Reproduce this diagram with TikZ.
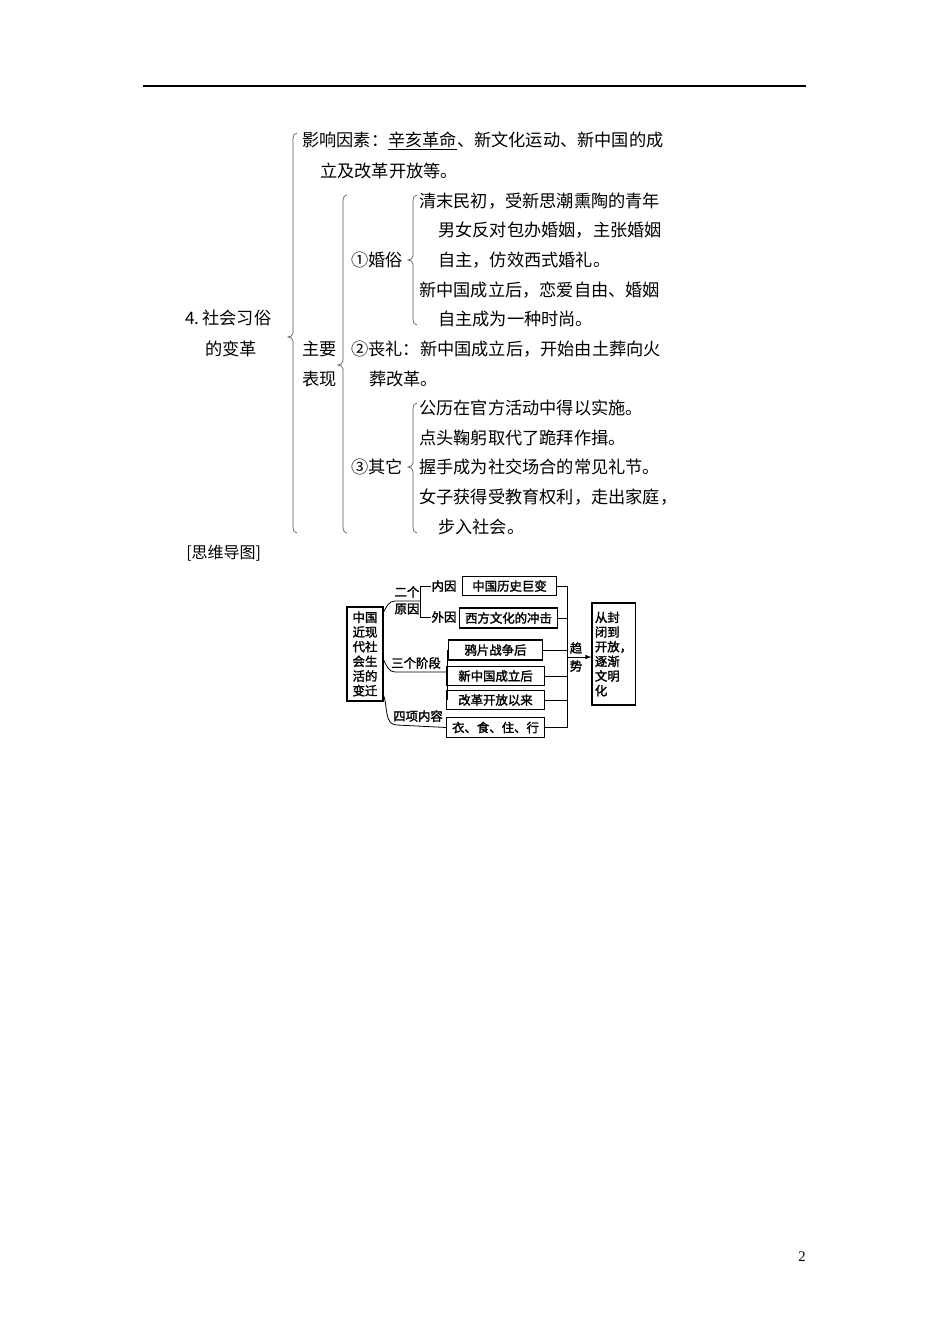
\documentclass[tikz,border=0pt]{standalone}
\usepackage{fontspec}
\setmainfont{Liberation Serif}
\newfontfamily\cjk{Noto Sans CJK SC}
\newfontfamily\cjkb{Noto Sans CJK SC}[FakeBold=2]
\begin{document}
\begin{tikzpicture}[x=0.75pt,y=-0.75pt,
  t/.style={anchor=west,inner sep=0pt,font=\cjk\fontsize{12.9}{14}\selectfont},
  m/.style={inner sep=0pt,font=\cjkb\fontsize{9.3}{11}\selectfont},
  bx/.style={draw,line width=0.8pt,inner sep=0pt},
  ln/.style={line width=0.6pt},
  br/.style={line width=0.5pt,gray!70!black}]
\useasboundingbox (0,0) rectangle (950,1344);
\newcommand\mybrace[4]{\draw[br] ({#1+4},#2) to[out=180,in=90] (#1,{#2+5}) -- (#1,{#3-4}) to[out=-90,in=0] ({#1-5},#3) to[out=0,in=90] (#1,{#3+4}) -- (#1,{#4-5}) to[out=-90,in=180] ({#1+4},#4);}
\draw[line width=0.8pt] (143,86) -- (806,86);
% outline
\node[t] (a1) at (185,318) {4.\,社会习俗};
\node[t] (a2) at (205,349) {的变革};
\mybrace{293}{133}{337}{533}
\node[t] (b1) at (302,141) {影响因素：\underline{辛亥革命}、新文化运动、新中国的成};
\node[t] (b2) at (320,171) {立及改革开放等。};
\node[t] (c1) at (302,349) {主要};
\node[t] (c2) at (302,379) {表现};
\mybrace{343}{195}{365}{533}
\node[t] (d1) at (351,260) {①婚俗};
\mybrace{413}{195}{260}{325}
\node[t] (e1) at (419,201) {清末民初，受新思潮熏陶的青年};
\node[t] (e2) at (438,230) {男女反对包办婚姻，主张婚姻};
\node[t] (e3) at (438,260) {自主，仿效西式婚礼。};
\node[t] (e4) at (419,290) {新中国成立后，恋爱自由、婚姻};
\node[t] (e5) at (438,319) {自主成为一种时尚。};
\node[t] (d2) at (351,349) {②丧礼：新中国成立后，开始由土葬向火};
\node[t] (d2b) at (369,379) {葬改革。};
\node[t] (d3) at (351,467) {③其它};
\mybrace{413}{403}{467}{533}
\node[t] (f1) at (419,408) {公历在官方活动中得以实施。};
\node[t] (f2) at (419,438) {点头鞠躬取代了跪拜作揖。};
\node[t] (f3) at (419,467) {握手成为社交场合的常见礼节。};
\node[t] (f4) at (419,497) {女子获得受教育权利，走出家庭，};
\node[t] (f5) at (438,527) {步入社会。};
\node[t,font=\cjk\fontsize{12}{13}\selectfont] (g) at (186,553) {[思维导图]};
\node[anchor=center,font=\fontsize{11}{12}\selectfont] (pg) at (802,1257) {2};
% mind map
\node[bx,minimum width=27pt,minimum height=70.5pt,m,align=center] (L) at (365,654) {中国\\近现\\代社\\会生\\活的\\变迁};
\node[bx,minimum width=32.3pt,minimum height=76.5pt,m,align=left] (R) at (613.5,654) {从封\\闭到\\开放，\\逐渐\\文明\\化};
\node[bx,m,minimum width=71pt,minimum height=14.5pt] (n1) at (509.5,586) {中国历史巨变};
\node[bx,m,minimum width=73pt,minimum height=15pt] (n2) at (508.5,618) {西方文化的冲击};
\node[bx,m,minimum width=71pt,minimum height=15pt] (n3) at (495.5,650) {鸦片战争后};
\node[bx,m,minimum width=73pt,minimum height=14pt] (n4) at (495.5,676) {新中国成立后};
\node[bx,m,minimum width=73pt,minimum height=14.5pt] (n5) at (495.5,700) {改革开放以来};
\node[bx,m,minimum width=73pt,minimum height=15.5pt] (n6) at (495.5,727.5) {衣、食、住、行};
\node[m] (k1) at (407,592) {二个};
\node[m] (k2) at (407,609) {原因};
\node[m] (k3) at (444,586) {内因};
\node[m] (k4) at (444,617) {外因};
\node[m] (k5) at (416,663) {三个阶段};
\node[m] (k6) at (418,716) {四项内容};
\node[m] (q1) at (576,648) {趋};
\node[m] (q2) at (576,666) {势};
\coordinate (c1) at (420,601);
\coordinate (c2) at (447,672);
\coordinate (c3) at (567,657);
\draw[ln] (L.east |- 0,612) to[out=60,in=180] (395,601) -- (c1);
\draw[ln] (c1 |- k3) -- (c1 |- k4);
\draw[ln] (c1 |- k3) -- (k3.west);
\draw[ln] (c1 |- k4) -- (k4.west);
\draw[ln] (L.east |- 0,660) to[out=-60,in=180] (395,672) -- (c2);
\draw[ln] (c2 |- n3) -- (c2 |- n5);
\draw[ln] (c2 |- n3) -- (n3.west);
\draw[ln] (L.east |- 0,695) to[out=-70,in=180] (397,725) -- (n6.west);
\draw[ln] (n1.east) -- (c3 |- n1);
\draw[ln] (c3 |- n1) -- (c3 |- n6);
\draw[ln] (n2.east) -- (c3 |- n2);
\draw[ln] (n3.east) -- (c3 |- n3);
\draw[ln] (n4.east) -- (c3 |- n4);
\draw[ln] (n5.east) -- (c3 |- n5);
\draw[ln] (n6.east) -- (c3 |- n6);
\draw[ln,-latex] (c3) -- (R.west |- c3);
\end{tikzpicture}
\end{document}
